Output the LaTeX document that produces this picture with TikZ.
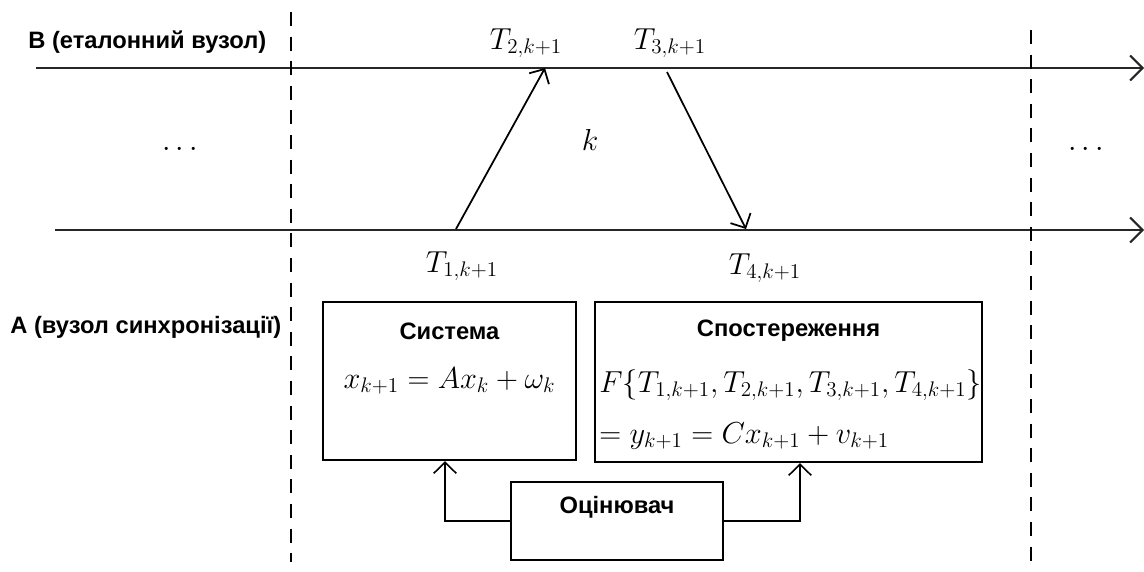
\documentclass[tikz,border=0pt]{standalone}
\usepackage[no-math]{fontspec}
\setmainfont{Liberation Sans}
\usetikzlibrary{arrows.meta}
\begin{document}
\begin{tikzpicture}[x=0.02cm,y=-0.02cm,
  lbl/.style={font=\fontsize{13.5}{15}\selectfont\bfseries, inner sep=0pt},
  mth/.style={font=\fontsize{17}{20}\selectfont, inner sep=0pt},
  tline/.style={line width=1.2pt, draw=black!85, -{Straight Barb[length=2.5mm,width=5mm]}},
  msg/.style={line width=1pt, -{Straight Barb[length=2.2mm,width=4.5mm]}},
  conn/.style={line width=0.9pt, -{Straight Barb[length=2.2mm,width=4.5mm]}},
  sep/.style={line width=1.1pt, dash pattern=on 8pt off 6pt},
  box/.style={draw, line width=1.4pt, inner sep=0pt}]
\useasboundingbox (0,0) rectangle (1144,572);
% timelines
\coordinate (bstart) at (36,68);
\coordinate (bend) at (1144,68);
\coordinate (astart) at (55,230);
\coordinate (aend) at (1144,230);
\draw[tline] (bstart) -- (bend);
\draw[tline] (astart) -- (aend);
% separators
\coordinate (s1t) at (291,12); \coordinate (s1b) at (291,562);
\coordinate (s2t) at (1031,30); \coordinate (s2b) at (1031,562);
\draw[sep] (s1t) -- (s1b);
\draw[sep] (s2t) -- (s2b);
% labels
\node[lbl, anchor=west] (lb) at (28,42) {B (еталонний вузол)};
\node[lbl, anchor=west] (la) at (10,327) {A (вузол синхронізації)};
\node[mth] (dl) at (180,150) {$\cdots$};
\node[mth] (dr) at (1086,150) {$\cdots$};
\node[mth] (k) at (590,140) {$k$};
% messages
\coordinate (p1) at (456,229);
\coordinate (p2) at (545,68);
\coordinate (p3) at (667,72);
\coordinate (p4) at (746,229);
\draw[msg] (p1) -- (p2);
\draw[msg] (p3) -- (p4);
\node[mth] (t2) at (526,43) {$T_{2,k+1}$};
\node[mth] (t3) at (670,43) {$T_{3,k+1}$};
\node[mth] (t1) at (462,266) {$T_{1,k+1}$};
\node[mth] (t4) at (765,268) {$T_{4,k+1}$};
% boxes
\node[box, minimum width=5.06cm, minimum height=3.16cm] (sys) at (449.5,381) {};
\node[lbl] (syst) at (449.5,331) {Система};
\node[mth] (sysf) at (449.5,381) {$x_{k+1} = Ax_k + \omega_k$};
\node[box, minimum width=7.74cm, minimum height=3.2cm] (obs) at (788.5,382) {};
\node[lbl] (obst) at (788.5,331) {Спостереження};
\node[mth, anchor=west] (obsf1) at (599,385) {$F\{T_{1,k+1}, T_{2,k+1}, T_{3,k+1}, T_{4,k+1}\}$};
\node[mth, anchor=west] (obsf2) at (599,436) {$= y_{k+1} = Cx_{k+1} + v_{k+1}$};
\node[box, minimum width=4.24cm, minimum height=1.56cm] (est) at (617,521) {};
\node[lbl] (estt) at (617,507) {Оцінювач};
% connectors
\draw[conn] (est.west) -| ([xshift=-0.09cm]sys.south);
\draw[conn] (est.east) -| ([xshift=0.23cm]obs.south);
\end{tikzpicture}
\end{document}
